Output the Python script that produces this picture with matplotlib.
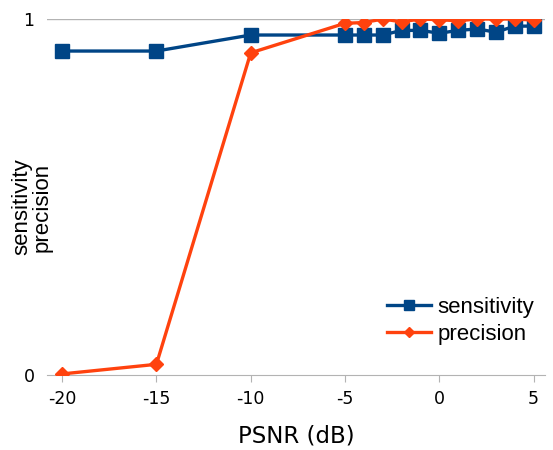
import matplotlib.pyplot as plt

plt.rcParams["axes.unicode_minus"] = False

# dati
psnr = [-20, -15, -10, -5, -4, -3, -2, -1, 0, 1, 2, 3, 4, 5]
sensitivity = [0.91, 0.91, 0.955, 0.955, 0.955, 0.955, 0.968, 0.968, 0.96, 0.968, 0.972, 0.963, 0.98, 0.98]
precision = [0.003, 0.03, 0.905, 0.988, 0.99, 1.0, 0.992, 1.0, 0.998, 0.995, 1.0, 1.0, 1.0, 0.997]

blu = "#004586"
arancio = "#ff420e"

fig = plt.figure(figsize=(5.53, 4.5), dpi=100)
ax = fig.add_axes([47 / 553, 75 / 450, 498 / 553, 356 / 450])

ax.plot(psnr, sensitivity, color=blu, lw=2.4, marker="s", ms=10, label="sensitivity", zorder=3)
ax.plot(psnr, precision, color=arancio, lw=2.4, marker="D", ms=7.5, label="precision", zorder=3)

ax.set_xlim(-20.8, 5.6)
ax.set_ylim(0, 1)
ax.set_xticks([-20, -15, -10, -5, 0, 5])
ax.set_yticks([0, 1])
ax.set_yticklabels(["0", "1"])
ax.axhline(1, color="#b3b3b3", lw=1, zorder=1)

for s in ["top", "right", "left"]:
    ax.spines[s].set_visible(False)
ax.spines["bottom"].set_color("#b3b3b3")
ax.tick_params(axis="x", colors="#b3b3b3", labelcolor="black", labelsize=12.5, length=5, pad=6)
ax.tick_params(axis="y", length=0, labelsize=12.5, pad=9)

ax.set_xlabel("PSNR (dB)", fontsize=16.5, labelpad=12)
fig.text(32 / 553, 1 - 207 / 450, "sensitivity\nprecision", rotation=90, ha="center", va="center",
         fontsize=16, family="Liberation Sans", linespacing=0.95)

leg = ax.legend(loc="center left", bbox_to_anchor=(387 / 553, 1 - 321 / 450),
                bbox_transform=fig.transFigure, frameon=False, borderpad=0, borderaxespad=0,
                prop={"family": "Liberation Sans", "size": 16},
                handlelength=2.0, handletextpad=0.27, labelspacing=0.25, markerscale=0.65)

plt.savefig("out.png", dpi=100)
